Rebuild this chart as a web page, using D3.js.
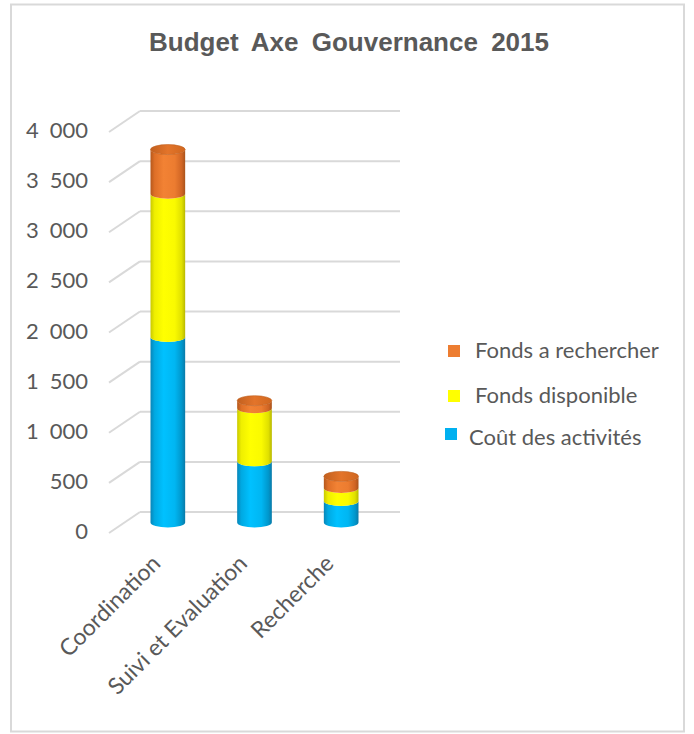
<!DOCTYPE html>
<html>
<head>
<meta charset="utf-8">
<script src="https://cdn.jsdelivr.net/npm/d3@7"></script>
<style>
  html, body { margin: 0; padding: 0; background: #fff; }
  svg { display: block; }
</style>
</head>
<body>
<svg id="chart" width="694" height="734"></svg>
<script>
// ---- data ----
const categories = ["Coordination", "Suivi et Evaluation", "Recherche"];
const coutActivites = [1850, 610, 215];
const fondsDisponible = [1430, 530, 130];
const fondsARechercher = [440, 75, 115];
const seriesNames = ["Coût des activités", "Fonds disponible", "Fonds a rechercher"];
const tickValues = [0, 500, 1000, 1500, 2000, 2500, 3000, 3500, 4000];
const tickLabels = ["0", "500", "1\u2002000", "1\u2002500", "2\u2002000", "2\u2002500", "3\u2002000", "3\u2002500", "4\u2002000"];
const titleText = "Budget Axe Gouvernance 2015";

// ---- layout ----
const svg = d3.select("#chart");
const grey = "#595959";
const gridColor = "#d9d9d9";
const font = "Lato, 'Open Sans', sans-serif";

// border
svg.append("rect").attr("x", 11).attr("y", 4.5).attr("width", 673).attr("height", 727)
  .attr("fill", "#fff").attr("stroke", "#d9d9d9").attr("stroke-width", 2);

// title
svg.append("text").attr("x", 349).attr("y", 51).attr("text-anchor", "middle")
  .attr("font-family", "'Liberation Sans', Arial, sans-serif").attr("font-weight", "bold")
  .attr("font-size", 26).attr("word-spacing", 6).attr("fill", grey).text(titleText);

// 3D geometry: back wall and depth offset
const backX0 = 140, backX1 = 400;
const depthDX = -31, depthDY = 21;
const yBack = d3.scaleLinear().domain([0, 4000]).range([512, 111]);

// gridlines (back wall + side wall diagonals)
const grid = svg.append("g");
tickValues.forEach(v => {
  const y = yBack(v);
  grid.append("line").attr("x1", backX0).attr("x2", backX1).attr("y1", y).attr("y2", y)
    .attr("stroke", gridColor).attr("stroke-width", 2);
  grid.append("line").attr("x1", backX0 + depthDX).attr("y1", y + depthDY)
    .attr("x2", backX0).attr("y2", y)
    .attr("stroke", gridColor).attr("stroke-width", 2);
});

// tick labels (front plane)
svg.append("g").selectAll("text").data(tickValues).join("text")
  .attr("x", 88).attr("y", (d) => yBack(d) + depthDY + 6)
  .attr("text-anchor", "end").attr("font-family", font).attr("font-size", 22)
  .attr("fill", grey).text((d, i) => tickLabels[i]);

// bars at mid depth
const midDX = depthDX / 2, midDY = depthDY / 2;
const x = d3.scaleBand().domain(categories).range([backX0 + midDX, backX1 + midDX]).padding(0);
const yMid = v => yBack(v) + midDY;
const rx = x.bandwidth() * 0.2;
const ry = 5;

const defs = svg.append("defs");
function grad(id, stops) {
  const g = defs.append("linearGradient").attr("id", id).attr("x1", "0%").attr("x2", "100%").attr("y1", "0%").attr("y2", "0%");
  stops.forEach(s => g.append("stop").attr("offset", s[0]).attr("stop-color", s[1]));
}
grad("gBlue", [["0%", "#0885b8"], ["12%", "#00a9e2"], ["38%", "#00c1ff"], ["70%", "#00b6f2"], ["90%", "#0097cc"], ["100%", "#0a7aa8"]]);
grad("gYellow", [["0%", "#c9c900"], ["12%", "#efef00"], ["38%", "#ffff00"], ["70%", "#fafa00"], ["90%", "#e0e000"], ["100%", "#b8b800"]]);
grad("gOrange", [["0%", "#b5581c"], ["12%", "#de6f27"], ["38%", "#f28234"], ["70%", "#ec7c30"], ["90%", "#d06524"], ["100%", "#a9531b"]]);
grad("gCap", [["0%", "#c2601f"], ["50%", "#e3742a"], ["100%", "#d0671f"]]);

const seriesData = [coutActivites, fondsDisponible, fondsARechercher];
const stack = d3.stack().keys([0, 1, 2]).value((d, k) => seriesData[k][d]);
const stacked = stack(categories.map((c, i) => i));
const fills = ["url(#gBlue)", "url(#gYellow)", "url(#gOrange)"];

const bars = svg.append("g");
categories.forEach((c, i) => {
  const cx = x(c) + x.bandwidth() / 2;
  const xl = cx - rx, xr = cx + rx;
  stacked.forEach((layer, k) => {
    const y0 = yMid(layer[i][0]), y1 = yMid(layer[i][1]);
    const dPath = `M${xl},${y0} A${rx},${ry} 0 0 0 ${xr},${y0} L${xr},${y1} A${rx},${ry} 0 0 1 ${xl},${y1} Z`;
    bars.append("path").attr("d", dPath).attr("fill", fills[k]);
  });
  const topY = yMid(stacked[2][i][1]);
  bars.append("ellipse").attr("cx", cx).attr("cy", topY).attr("rx", rx).attr("ry", ry)
    .attr("fill", "url(#gCap)").attr("stroke", "#c0601f").attr("stroke-width", 0.6);
});

// category labels
svg.append("g").selectAll("text").data(categories).join("text")
  .attr("transform", d => `translate(${x(d) + x.bandwidth() / 2 - 6},565) rotate(-45)`)
  .attr("text-anchor", "end").attr("font-family", font).attr("font-size", 23)
  .attr("fill", grey).text(d => d);

// legend
const legendItems = [
  { name: seriesNames[2], color: "#ed7d31", sx: 448, sy: 345, tx: 475, ty: 358 },
  { name: seriesNames[1], color: "#ffff00", sx: 448, sy: 390, tx: 475, ty: 403 },
  { name: seriesNames[0], color: "#00b0f0", sx: 445, sy: 428, tx: 469, ty: 445 }
];
const lg = svg.append("g");
legendItems.forEach(it => {
  lg.append("rect").attr("x", it.sx).attr("y", it.sy).attr("width", 12).attr("height", 12).attr("fill", it.color);
  lg.append("text").attr("x", it.tx).attr("y", it.ty).attr("font-family", font).attr("font-size", 22)
    .attr("fill", grey).text(it.name);
});
</script>
</body>
</html>
